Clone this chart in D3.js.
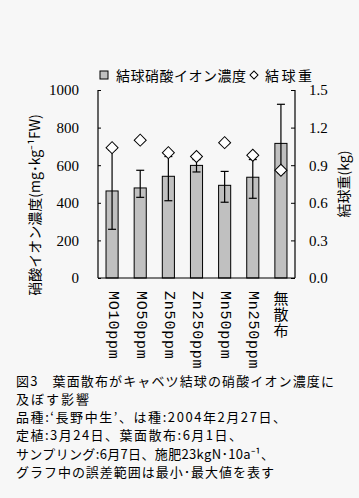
<!DOCTYPE html>
<html><head><meta charset="utf-8">
<script src="https://cdn.jsdelivr.net/npm/d3@7"></script>
<style>
html,body{margin:0;padding:0;background:#f7f7f7;}
svg{display:block;}
</style></head>
<body>
<script>
const categories = ["MO10ppm","MO50ppm","Zn50ppm","Zn250ppm","Mn50ppm","Mn250ppm","無散布"];
const nitrate = [463, 479, 541, 599, 493, 536, 716];
const nitrateMin = [259, 429, 411, 564, 403, 424, 560];
const nitrateMax = [680, 573, 646, 630, 567, 630, 924];
const headWeight = [1.04, 1.10, 1.00, 0.97, 1.08, 0.98, 0.86];
const leftTicks = [0, 200, 400, 600, 800, 1000];
const rightTicks = [0, 0.3, 0.6, 0.9, 1.2, 1.5];
const legendLabels = ["結球硝酸イオン濃度", "結球重"];
const captionLines = [
  "図3　葉面散布がキャベツ結球の硝酸イオン濃度に",
  "及ぼす影響",
  "品種:‘長野中生’、は種:2004年2月27日、",
  "定植:3月24日、葉面散布:6月1日、",
  "サンプリング:6月7日、施肥23kgN･10a⁻¹、",
  "グラフ中の誤差範囲は最小･最大値を表す"
];

const W = 359, H = 498;
const svg = d3.select("body").append("svg").attr("width", W).attr("height", H);
svg.append("rect").attr("width", W).attr("height", H).attr("fill", "#f7f7f7");

const jp = "'Noto Sans CJK JP', sans-serif";
const serif = "'Liberation Serif', serif";
const mono = "'Liberation Mono', monospace";

const x = d3.scaleBand().domain(categories).range([98, 295]).paddingInner(0.57).paddingOuter(0.285);
const y = d3.scaleLinear().domain([0, 1000]).range([278, 90]);
const yR = d3.scaleLinear().domain([0, 1.5]).range([278, 90]);

// bars
svg.append("g").selectAll("rect").data(categories).join("rect")
  .attr("x", d => x(d)).attr("width", x.bandwidth())
  .attr("y", (d, i) => y(nitrate[i])).attr("height", (d, i) => y(0) - y(nitrate[i]))
  .attr("fill", "#c0c0c0").attr("stroke", "#000").attr("stroke-width", 1);

// error bars
const eg = svg.append("g").attr("stroke", "#000").attr("stroke-width", 1.2);
categories.forEach((c, i) => {
  const cx = x(c) + x.bandwidth() / 2;
  eg.append("line").attr("x1", cx).attr("x2", cx).attr("y1", y(nitrateMin[i])).attr("y2", y(nitrateMax[i]));
  eg.append("line").attr("x1", cx - 4).attr("x2", cx + 4).attr("y1", y(nitrateMin[i])).attr("y2", y(nitrateMin[i]));
  eg.append("line").attr("x1", cx - 4).attr("x2", cx + 4).attr("y1", y(nitrateMax[i])).attr("y2", y(nitrateMax[i]));
});

// diamonds
const diamond = d3.symbol(d3.symbolSquare, 72);
svg.append("g").selectAll("path").data(categories).join("path")
  .attr("d", diamond)
  .attr("transform", (d, i) => `translate(${x(d) + x.bandwidth() / 2},${yR(headWeight[i])}) rotate(45)`)
  .attr("fill", "#fff").attr("stroke", "#000").attr("stroke-width", 1);

// axes
const leftAxis = d3.axisLeft(y).tickValues(leftTicks).tickSize(-3).tickPadding(19).tickFormat(d3.format("d"));
const gL = svg.append("g").attr("transform", "translate(98,0)").call(leftAxis);
const rightAxis = d3.axisRight(yR).tickValues(rightTicks).tickSize(-4).tickPadding(14).tickFormat(d3.format(".1f"));
const gR = svg.append("g").attr("transform", "translate(295,0)").call(rightAxis);
[gL, gR].forEach(g => {
  g.select(".domain").attr("stroke", "#000").attr("stroke-width", 1.2);
  g.selectAll(".tick line").attr("stroke", "#000");
  g.selectAll(".tick text").attr("font-family", serif).attr("font-size", 15).attr("fill", "#000");
});
gL.select(".domain").attr("d", "M0,90V278");
gR.select(".domain").attr("d", "M0,90V278");
svg.append("line").attr("x1", 98).attr("x2", 295).attr("y1", 278).attr("y2", 278)
  .attr("stroke", "#000").attr("stroke-width", 1.2);

// x labels (vertical)
svg.append("g").selectAll("text").data(categories).join("text")
  .attr("x", d => x(d) + x.bandwidth() / 2)
  .attr("y", 291)
  .attr("writing-mode", "vertical-rl")
  .style("text-orientation", "mixed")
  .attr("font-family", (d, i) => i === 6 ? jp : mono)
  .attr("font-size", 15)
  .attr("letter-spacing", (d, i) => i === 6 ? 1 : 0.8)
  .attr("fill", "#000")
  .text(d => d);

// axis titles
svg.append("text").attr("transform", "translate(34,205) rotate(-90)")
  .attr("text-anchor", "middle").attr("dominant-baseline", "central")
  .attr("font-family", jp).attr("font-size", 14).attr("fill", "#000")
  .text("硝酸イオン濃度(mg･kg⁻¹FW)");

svg.append("text").attr("transform", "translate(343,184) rotate(-90)")
  .attr("text-anchor", "middle").attr("dominant-baseline", "central")
  .attr("font-family", jp).attr("font-size", 14).attr("fill", "#000")
  .text("結球重(kg)");

// legend
svg.append("rect").attr("x", 100).attr("y", 71).attr("width", 8).attr("height", 8)
  .attr("fill", "#c0c0c0").attr("stroke", "#000").attr("stroke-width", 1);
svg.append("text").attr("x", 116).attr("y", 75).attr("dominant-baseline", "central")
  .attr("font-family", jp).attr("font-size", 14).attr("fill", "#000")
  .attr("textLength", 130).text(legendLabels[0]);
svg.append("path").attr("d", d3.symbol(d3.symbolSquare, 32)())
  .attr("transform", "translate(254,75) rotate(45)")
  .attr("fill", "#fff").attr("stroke", "#000");
svg.append("text").attr("x", 265).attr("y", 75).attr("dominant-baseline", "central")
  .attr("font-family", jp).attr("font-size", 14).attr("fill", "#000")
  .attr("textLength", 47).text(legendLabels[1]);

// caption
const capY = [380, 398.3, 416.6, 434.9, 453.2, 471.5];
const capW = [318, 73, 270, 226, 258, 258];
captionLines.forEach((t, i) => {
  svg.append("text").attr("x", 16).attr("y", capY[i]).attr("dominant-baseline", "central")
    .attr("font-family", jp).attr("font-size", 13).attr("fill", "#000")
    .attr("textLength", capW[i]).attr("lengthAdjust", "spacing")
    .text(t);
});
</script>
</body></html>
